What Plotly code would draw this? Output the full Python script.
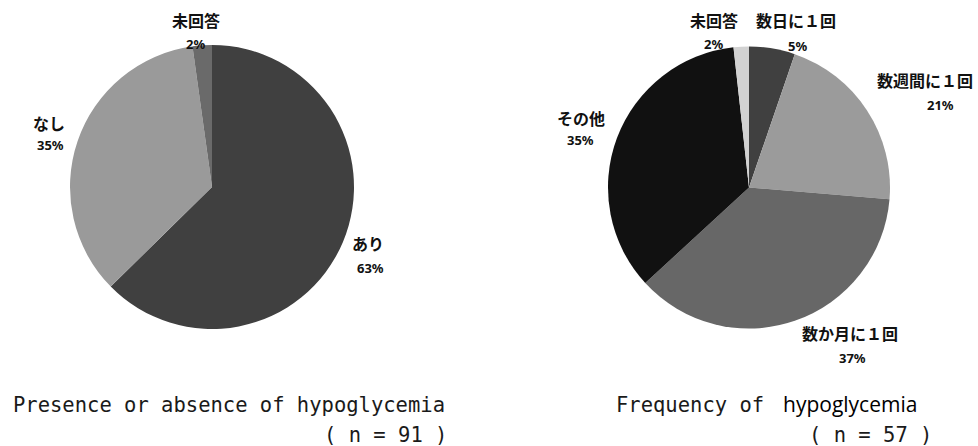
import plotly.graph_objects as go

# Presence of hypoglycemia (n = 91)
presence_labels = ["あり", "なし", "未回答"]
presence_counts = [57, 32, 2]
presence_colors = ["#404040", "#9a9a9a", "#6a6a6a"]

# Frequency of hypoglycemia (n = 57)
freq_labels = ["数日に１回", "数週間に１回", "数か月に１回", "その他", "未回答"]
freq_counts = [3, 12, 21, 20, 1]
freq_colors = ["#404040", "#9b9b9b", "#676767", "#111111", "#d2d2d2"]

W, H = 978, 446

fig = go.Figure()

fig.add_trace(go.Pie(
    labels=presence_labels, values=presence_counts, sort=False,
    direction="clockwise", rotation=0,
    marker=dict(colors=presence_colors, line=dict(width=0)),
    textinfo="none", hoverinfo="label+percent", showlegend=False,
    domain=dict(x=[70 / W, 354 / W], y=[(259 - 142) / H, (259 + 142) / H]),
))

fig.add_trace(go.Pie(
    labels=freq_labels, values=freq_counts, sort=False,
    direction="clockwise", rotation=0,
    marker=dict(colors=freq_colors, line=dict(width=0)),
    textinfo="none", hoverinfo="label+percent", showlegend=False,
    domain=dict(x=[608 / W, 890 / W], y=[(258.5 - 141) / H, (258.5 + 141) / H]),
))

label_font = dict(family="Noto Sans CJK JP", size=16, color="#111111")
pct_font = dict(family="Noto Sans", size=13, color="#111111")

# label centre positions (px) for each slice: (label_x, label_y, pct_x, pct_y)
presence_pos = [(368, 243, 370, 268), (49, 123, 50, 145), (196, 20, 195, 44)]
freq_pos = [(796, 20, 797, 46), (925, 80, 940, 105), (850, 333, 852, 358),
            (581, 118, 580, 140), (714, 20, 713, 44)]


def add_slice_labels(labels, counts, positions):
    total = sum(counts)
    for lab, val, (lx, ly, px, py) in zip(labels, counts, positions):
        fig.add_annotation(x=lx / W, y=1 - ly / H, xref="paper", yref="paper",
                           text=f"<b>{lab}</b>", showarrow=False, font=label_font,
                           xanchor="center", yanchor="middle")
        fig.add_annotation(x=px / W, y=1 - py / H, xref="paper", yref="paper",
                           text=f"<b>{round(val / total * 100)}%</b>", showarrow=False,
                           font=pct_font, xanchor="center", yanchor="middle")


add_slice_labels(presence_labels, presence_counts, presence_pos)
add_slice_labels(freq_labels, freq_counts, freq_pos)

title_font = dict(family="DejaVu Sans Mono", size=20.5, color="#1a1a1a")
emph_font = dict(family="Open Sans", size=21, color="#000000")


def add_text(x, y, text, font, anchor):
    fig.add_annotation(x=x / W, y=1 - y / H, xref="paper", yref="paper",
                       text=text, showarrow=False, font=font,
                       xanchor=anchor, yanchor="middle")


add_text(11, 405, "Presence or absence of hypoglycemia", title_font, "left")
add_text(449, 435, f"( n = {sum(presence_counts)} )", title_font, "right")
add_text(614, 405, "Frequency of", title_font, "left")
add_text(781, 404, "hypoglycemia", emph_font, "left")
add_text(934, 435, f"( n = {sum(freq_counts)} )", title_font, "right")

fig.update_layout(width=W, height=H, margin=dict(l=0, r=0, t=0, b=0),
                  paper_bgcolor="white", plot_bgcolor="white")

fig.write_html("out.html")
